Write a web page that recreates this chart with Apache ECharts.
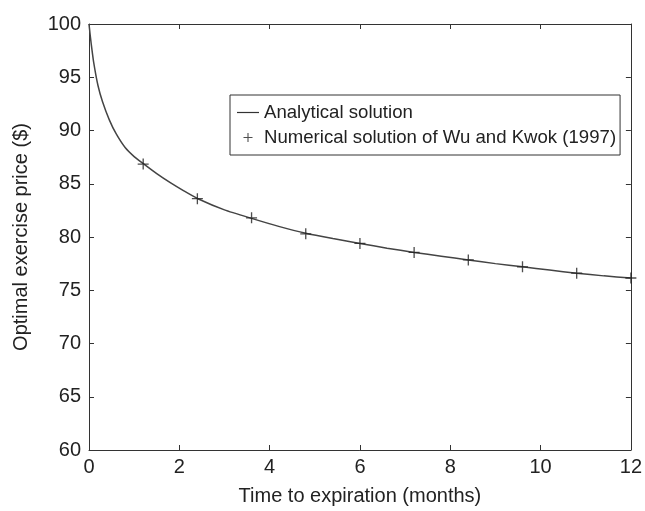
<!DOCTYPE html>
<html>
<head>
<meta charset="utf-8">
<script src="https://cdn.jsdelivr.net/npm/echarts@6/dist/echarts.min.js"></script>
<style>
  html, body { margin: 0; padding: 0; background: #fff; }
  #chart { width: 645px; height: 511px; }
</style>
</head>
<body>
<div id="chart"></div>
<script>
// analytical curve
var curveT = [0, 0.02, 0.05, 0.1, 0.2, 0.3, 0.45, 0.6, 0.8, 1.0, 1.2, 1.5, 1.8, 2.1, 2.4, 3.0, 3.6, 4.2, 4.8, 5.4, 6.0, 6.6, 7.2, 7.8, 8.4, 9.0, 9.6, 10.2, 10.8, 11.4, 12];
var curveV = [100, 99.2, 98.1, 96.5, 94.2, 92.7, 91.0, 89.7, 88.4, 87.55, 86.9, 85.95, 85.1, 84.33, 83.62, 82.55, 81.75, 81.0, 80.35, 79.85, 79.4, 78.95, 78.55, 78.2, 77.85, 77.5, 77.2, 76.9, 76.6, 76.35, 76.15];
// numerical points (Wu and Kwok 1997)
var numT = [1.2, 2.4, 3.6, 4.8, 6.0, 7.2, 8.4, 9.6, 10.8, 12];
var numV = [86.85, 83.6, 81.8, 80.3, 79.4, 78.55, 77.85, 77.2, 76.6, 76.15];

var font = 'Liberation Sans, Arial, Helvetica, sans-serif';
var axisCol = '#333';
var plus = 'path://M4.4,0H5.6V4.4H10V5.6H5.6V10H4.4V5.6H0V4.4H4.4Z';

var chart = echarts.init(document.getElementById('chart'));

function zip(a, b) {
  var out = [];
  for (var i = 0; i < a.length; i++) out.push([a[i], b[i]]);
  return out;
}

var baseAxis = {
  axisLine: { show: true, onZero: false, lineStyle: { color: axisCol, width: 1 } },
  axisTick: { show: true, inside: true, length: 5, lineStyle: { color: axisCol } },
  splitLine: { show: false }
};

var option = {
  animation: false,
  backgroundColor: '#fff',
  grid: { left: 89, right: 10, top: 24, bottom: 59, containLabel: false },
  legend: {
    orient: 'vertical',
    left: 230,
    top: 95,
    padding: [8, 4, 8, 7],
    itemGap: 6,
    itemWidth: 22,
    itemHeight: 9,
    borderColor: axisCol,
    borderWidth: 1,
    backgroundColor: '#fff',
    textStyle: { fontFamily: font, fontSize: 18.6, color: '#222' },
    data: [
      { name: 'Analytical solution', icon: 'path://M0,4.4H22V5.6H0Z', itemStyle: { color: '#333' } },
      { name: 'Numerical solution of Wu and Kwok (1997)', icon: plus, itemStyle: { color: '#222' } }
    ]
  },
  xAxis: [
    Object.assign({}, baseAxis, {
      type: 'value', min: 0, max: 12, interval: 2,
      name: 'Time to expiration (months)',
      nameLocation: 'middle', nameGap: 36,
      nameTextStyle: { fontFamily: font, fontSize: 20, color: '#222' },
      axisLabel: { fontFamily: font, fontSize: 20, color: '#222', margin: 7 }
    }),
    Object.assign({}, baseAxis, {
      type: 'value', min: 0, max: 12, interval: 2, position: 'top',
      axisLabel: { show: false }
    })
  ],
  yAxis: [
    Object.assign({}, baseAxis, {
      type: 'value', min: 60, max: 100, interval: 5,
      name: 'Optimal exercise price ($)',
      nameLocation: 'middle', nameGap: 58,
      nameTextStyle: { fontFamily: font, fontSize: 20, color: '#222' },
      axisLabel: { fontFamily: font, fontSize: 20, color: '#222', margin: 8 }
    }),
    Object.assign({}, baseAxis, {
      type: 'value', min: 60, max: 100, interval: 5, position: 'right',
      axisLabel: { show: false }
    })
  ],
  series: [
    {
      name: 'Analytical solution',
      type: 'line',
      smooth: 0.2,
      showSymbol: false,
      lineStyle: { color: '#444', width: 1.5 },
      itemStyle: { color: '#444' },
      data: zip(curveT, curveV),
      z: 2
    },
    {
      name: 'Numerical solution of Wu and Kwok (1997)',
      type: 'scatter',
      symbol: plus,
      symbolSize: 11,
      itemStyle: { color: '#222' },
      data: zip(numT, numV),
      z: 3
    }
  ]
};

chart.setOption(option);
</script>
</body>
</html>
